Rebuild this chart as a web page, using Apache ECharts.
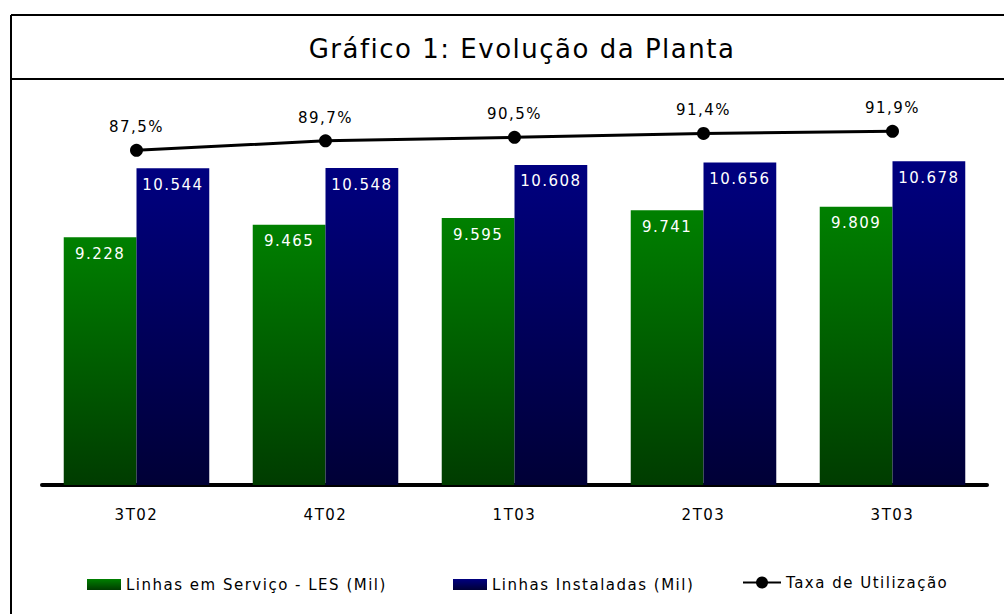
<!DOCTYPE html>
<html>
<head>
<meta charset="utf-8">
<script src="https://cdn.jsdelivr.net/npm/echarts@6/dist/echarts.min.js"></script>
<style>
  html, body { margin: 0; padding: 0; background: #fff; }
  #chart { width: 1004px; height: 614px; }
  /* o original tem letras mais espaçadas */
  #chart svg text { letter-spacing: 1.5px; }
</style>
</head>
<body>
<div id="chart"></div>
<script>
var categories = ['3T02', '4T02', '1T03', '2T03', '3T03'];
var linhasServico = [9228, 9465, 9595, 9741, 9809];
var linhasInstaladas = [10544, 10548, 10608, 10656, 10678];
var taxaUtilizacao = [87.5, 89.7, 90.5, 91.4, 91.9];

var FONT = 'DejaVu Sans';

// 9228 -> "9.228"
function milhar(v) {
  return String(v).replace(/\B(?=(\d{3})+(?!\d))/g, '.');
}

function grad(top, bottom) {
  return new echarts.graphic.LinearGradient(0, 0, 0, 1, [
    { offset: 0, color: top },
    { offset: 1, color: bottom }
  ]);
}

var myChart = echarts.init(document.getElementById('chart'), null, { renderer: 'svg' });

var legendText = { fontFamily: FONT, fontSize: 15, color: '#000' };

var option = {
  backgroundColor: '#fff',
  animation: false,
  title: {
    text: 'Gráfico 1: Evolução da Planta',
    left: 517,
    top: 31,
    textAlign: 'center',
    textStyle: { fontFamily: FONT, fontSize: 26, fontWeight: 'normal', color: '#000' }
  },
  graphic: [
    { type: 'line', shape: { x1: 11, y1: 15, x2: 1010, y2: 15 }, style: { stroke: '#000', lineWidth: 2 } },
    { type: 'line', shape: { x1: 11, y1: 15, x2: 11, y2: 620 }, style: { stroke: '#000', lineWidth: 2 } },
    { type: 'line', shape: { x1: 11, y1: 79, x2: 1010, y2: 79 }, style: { stroke: '#000', lineWidth: 2 } }
  ],
  legend: [
    {
      left: 87, top: 577, padding: 0,
      data: [{ name: 'Linhas em Serviço - LES (Mil)', icon: 'rect' }],
      itemWidth: 34, itemHeight: 11,
      textStyle: legendText
    },
    {
      left: 453, top: 577, padding: 0,
      data: [{ name: 'Linhas Instaladas (Mil)', icon: 'rect' }],
      itemWidth: 34, itemHeight: 11,
      textStyle: legendText
    },
    {
      left: 742, top: 575, padding: 0,
      data: ['Taxa de Utilização'],
      itemWidth: 38, itemHeight: 15,
      textStyle: legendText
    }
  ],
  grid: { left: 42, right: 17, top: 92, bottom: 129 },
  xAxis: {
    type: 'category',
    data: categories,
    axisLine: { lineStyle: { color: '#000', width: 4, cap: 'round' } },
    axisTick: { show: false },
    axisLabel: { fontFamily: FONT, fontSize: 15, color: '#000', margin: 22 }
  },
  yAxis: [
    { type: 'value', min: 4500, max: 12000, show: false, splitLine: { show: false } },
    { type: 'value', min: 10, max: 101, show: false, splitLine: { show: false } }
  ],
  series: [
    {
      name: 'Linhas em Serviço - LES (Mil)',
      type: 'bar',
      data: linhasServico,
      barGap: '0%',
      barCategoryGap: '23%',
      itemStyle: { color: grad('#008000', '#003c00') },
      label: {
        show: true, position: 'insideTop', distance: 9,
        formatter: function (p) { return milhar(p.value); },
        fontFamily: FONT, fontSize: 15, color: '#fff'
      }
    },
    {
      name: 'Linhas Instaladas (Mil)',
      type: 'bar',
      data: linhasInstaladas,
      itemStyle: { color: grad('#000080', '#000036') },
      label: {
        show: true, position: 'insideTop', distance: 9,
        formatter: function (p) { return milhar(p.value); },
        fontFamily: FONT, fontSize: 15, color: '#fff'
      }
    },
    {
      name: 'Taxa de Utilização',
      type: 'line',
      yAxisIndex: 1,
      data: taxaUtilizacao,
      symbol: 'circle',
      symbolSize: 13,
      lineStyle: { color: '#000', width: 3 },
      itemStyle: { color: '#000' },
      label: {
        show: true, position: 'top', distance: 9,
        formatter: function (p) { return String(p.value).replace('.', ',') + '%'; },
        fontFamily: FONT, fontSize: 15, color: '#000'
      }
    }
  ]
};

myChart.setOption(option);
</script>
</body>
</html>
